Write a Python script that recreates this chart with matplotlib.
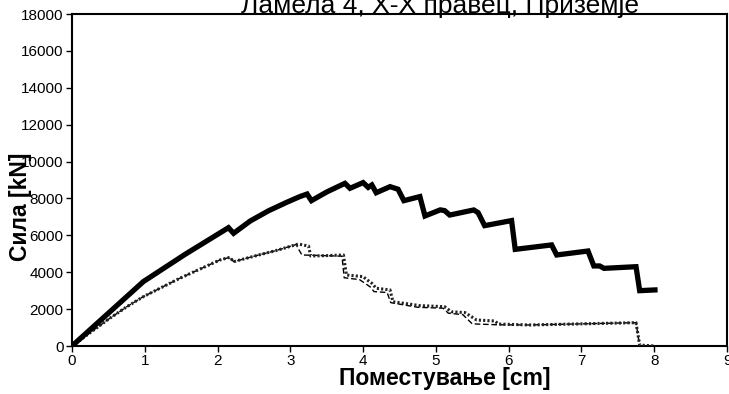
import matplotlib
matplotlib.use("Agg")
import matplotlib.pyplot as plt

plt.rcParams['font.family'] = ['Liberation Sans', 'DejaVu Sans']

# Thick series
x1 = [0, 0.5, 0.98, 1.55, 2.15, 2.22, 2.45, 2.7, 2.95, 3.13, 3.23, 3.29,
      3.5, 3.75, 3.82, 4.0, 4.07, 4.12, 4.18, 4.37, 4.48, 4.56, 4.78, 4.85, 5.06, 5.12,
      5.19, 5.52, 5.58, 5.67, 6.04, 6.09, 6.59, 6.66, 7.09, 7.17, 7.25, 7.31, 7.75, 7.80, 8.01]
y1 = [0, 1780, 3490, 4960, 6415, 6110, 6780, 7330, 7790, 8100, 8240, 7880,
      8350, 8820, 8550, 8860, 8600, 8730, 8310, 8640, 8500, 7880, 8100, 7050, 7380, 7340,
      7100, 7375, 7230, 6525, 6800, 5240, 5480, 4935, 5150, 4340, 4340, 4210, 4300, 3000, 3040]

# Thin dotted series
x2 = [0, 0.5, 0.75, 0.98, 1.48, 2.03, 2.17, 2.22, 2.58, 2.8, 3.11, 3.25, 3.28, 3.5, 3.73,
      3.77, 4.0, 4.05, 4.12, 4.18, 4.37, 4.41, 4.78, 5.12, 5.21, 5.40, 5.56, 5.81, 5.86,
      6.29, 7.75, 7.80, 8.01]
y2 = [0, 1450, 2120, 2675, 3670, 4660, 4810, 4570, 4950, 5170, 5530, 5420, 4880, 4900, 4935,
      3850, 3760, 3600, 3400, 3130, 3040, 2400, 2190, 2130, 1860, 1810, 1410, 1355, 1190,
      1140, 1265, 50, 0]

# Thin dashed series
x3 = [0, 0.5, 0.75, 0.98, 1.48, 2.03, 2.17, 2.22, 2.58, 2.8, 3.08, 3.12, 3.16, 3.71, 3.74,
      3.95, 4.1, 4.15, 4.33, 4.38, 4.75, 5.1, 5.17, 5.37, 5.5, 5.85, 6.29, 7.75, 7.80, 8.01]
y3 = [0, 1450, 2120, 2675, 3670, 4660, 4810, 4570, 4950, 5170, 5500, 5200, 4935, 4870, 3700,
      3600, 3200, 2950, 2900, 2350, 2100, 2050, 1780, 1700, 1200, 1150, 1140, 1265, 0, 0]

xticks = list(range(0, 10))
yticks = list(range(0, 18001, 2000))

fig = plt.figure(figsize=(7.29, 3.94), dpi=100)
ax = fig.add_axes([72/729, 48/394, (727-72)/729, (346-14)/394])

ax.plot(x3, y3, color='black', lw=1.0, linestyle=(0, (4, 2)), zorder=2)
ax.plot(x2, y2, color='#222222', lw=2.2, linestyle=(0, (0.7, 0.7)), zorder=3)
ax.plot(x1, y1, color='black', lw=3.8, solid_joinstyle='miter', zorder=4)

ax.set_xlim(0, 9)
ax.set_ylim(0, 18000)
ax.set_xticks(xticks)
ax.set_yticks(yticks)
ax.tick_params(direction='out', length=4, width=1, labelsize=11, colors='black', pad=2)
for s in ax.spines.values():
    s.set_linewidth(1.5)
    s.set_color('black')

fig.text(440/729, 1 - 12.7/394, 'Ламела 4, X-X правец, Приземје', ha='center',
         va='baseline', fontsize=19)
fig.text(445/729, 1 - 379/394, 'Поместување [cm]', ha='center', va='center',
         fontsize=16.5, fontweight='bold')
fig.text(21/729, 1 - 207/394, 'Сила [kN]', ha='center', va='center', rotation=90,
         fontsize=16.5, fontweight='bold')

fig.savefig('out.png', dpi=100)
